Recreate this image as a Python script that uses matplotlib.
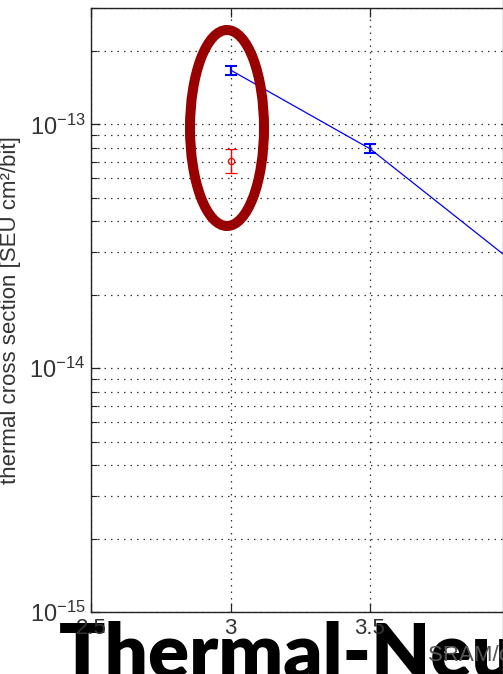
import matplotlib
matplotlib.use('Agg')
import matplotlib.pyplot as plt
from matplotlib.patches import Ellipse
from matplotlib.lines import Line2D
from matplotlib.ticker import LogLocator, NullFormatter, FixedLocator, FixedFormatter

plt.rcParams['font.family'] = ['Liberation Sans', 'DejaVu Sans']

# Thermal-neutron SEU cross sections versus SRAM supply voltage
voltage_blue = [3.0, 3.5, 4.0]
xsec_blue = [1.67e-13, 7.94e-14, 2.8e-14]
err_lo_blue = [0.07e-13, 0.33e-14, 0.15e-14]
err_hi_blue = [0.07e-13, 0.35e-14, 0.15e-14]

voltage_red = [3.0]
xsec_red = [7.06e-14]
err_lo_red = [0.76e-14]
err_hi_red = [0.84e-14]

x_range = [2.5, 4.0]
xticks = [2.5, 3.0, 3.5]
xticklabels = ['2.5', '3', '3.5']
ylabel = 'thermal cross section [SEU cm\u00b2/bit]'
xlabel = 'SRAM/core voltage [V]'
banner = 'Thermal-Neutrons'

W, H, DPI = 503, 674, 100
fig = plt.figure(figsize=(W / DPI, H / DPI), dpi=DPI)

# axes in pixel units; the plot runs past the right edge of the figure
left_px, top_px, bottom_px = 91, 8, 612
px_per_unit = 279.0
ax_w_px = (x_range[1] - x_range[0]) * px_per_unit
ax = fig.add_axes([left_px / W, (H - bottom_px) / H, ax_w_px / W, (bottom_px - top_px) / H])

ax.set_yscale('log')
ax.set_xlim(*x_range)
ax.set_ylim(1e-15, 3e-13)

ax.errorbar(voltage_blue, xsec_blue, yerr=[err_lo_blue, err_hi_blue], color='#0000ff',
            lw=0.9, elinewidth=1.6, capsize=4.5, capthick=1.5, zorder=3)
ax.errorbar(voltage_red, xsec_red, yerr=[err_lo_red, err_hi_red], color='#ff0000',
            lw=0.9, elinewidth=1.0, capsize=4.5, capthick=1.2, marker='o',
            markersize=4.5, markerfacecolor='none', markeredgewidth=0.9, zorder=3)

ax.xaxis.set_major_locator(FixedLocator(xticks))
ax.xaxis.set_major_formatter(FixedFormatter(xticklabels))
ax.yaxis.set_major_locator(LogLocator(base=10, numticks=10))
ax.yaxis.set_minor_locator(LogLocator(base=10, subs=range(2, 10), numticks=10))
ax.yaxis.set_minor_formatter(NullFormatter())

grid_style = dict(color='#333333', linestyle=(0, (1.2, 4.0)), linewidth=0.9)
ax.grid(True, which='major', axis='both', **grid_style)
ax.grid(True, which='minor', axis='y', **grid_style)

ax.tick_params(which='both', direction='in', top=True, right=True,
               colors='#222222', labelcolor='#333333', labelsize=16)
ax.tick_params(axis='y', which='major', labelsize=17)
ax.tick_params(which='major', length=6.5, width=0.9, pad=4)
ax.tick_params(which='minor', length=4, width=0.8)
for sp in ax.spines.values():
    sp.set_color('#222222')
    sp.set_linewidth(1.0)

ax.set_ylabel(ylabel, fontsize=16, color='#333333', labelpad=6)
ax.set_xlabel(xlabel, fontsize=16, color='#555555', ha='left')
ax.xaxis.set_label_coords((428 - left_px) / ax_w_px, -0.055)

# slide banner behind the axes texts
fig.text(59 / W, -4 / H, banner, fontsize=55, fontweight='heavy', color='black',
         family=['Lato', 'Liberation Sans'], ha='left', va='baseline', zorder=-1)

# highlight ring around the 3 V measurements
ring = Ellipse((227 / DPI, (H - 128) / DPI), 0.74, 1.96, transform=fig.dpi_scale_trans,
               fill=False, edgecolor='#990000', linewidth=7.2, zorder=10)
fig.add_artist(ring)

fig.add_artist(Line2D([502.5 / W, 502.5 / W], [0, 1], transform=fig.transFigure,
                      color='#808080', linewidth=1.0, zorder=11))

fig.savefig('out.png', dpi=DPI)
